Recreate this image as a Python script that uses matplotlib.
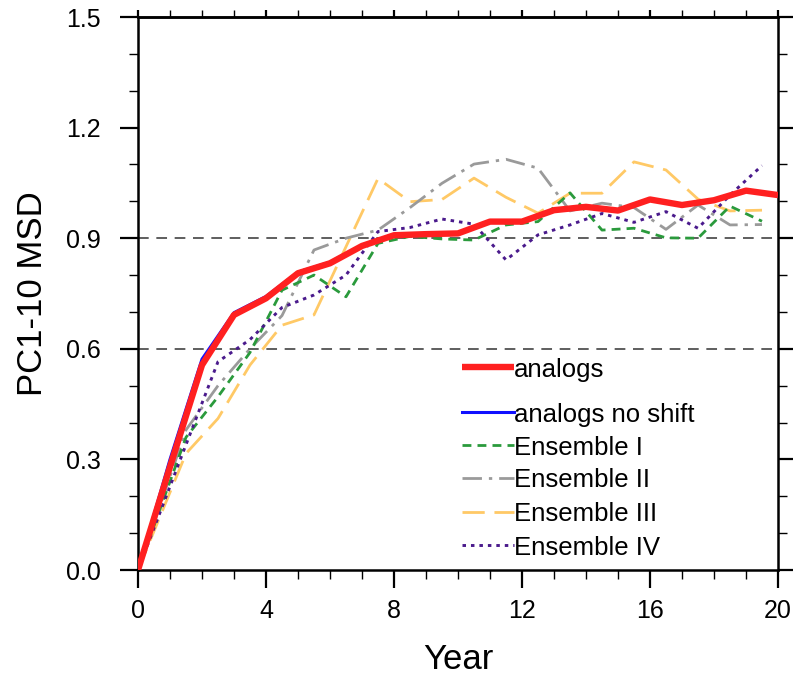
import matplotlib
matplotlib.use("Agg")
import matplotlib.pyplot as plt
from matplotlib.ticker import MultipleLocator, FormatStrFormatter
from matplotlib.lines import Line2D

plt.rcParams['font.family'] = ['Liberation Sans', 'DejaVu Sans']

# ---------------- data ----------------
years = [0, 1, 2, 3, 4, 5, 6, 7, 8, 9, 10, 11, 12, 13, 14, 15, 16, 17, 18, 19, 20]
analogs = [0, 0.28, 0.556, 0.692, 0.737, 0.805, 0.832, 0.879, 0.908, 0.911, 0.913,
           0.945, 0.945, 0.976, 0.985, 0.975, 1.005, 0.99, 1.003, 1.029, 1.017]
analogs_no_shift = [0, 0.30, 0.572, 0.698, 0.742, 0.808, 0.835, 0.881, 0.909, 0.911, 0.913,
                    0.945, 0.945, 0.976, 0.985, 0.975, 1.005, 0.99, 1.003, 1.029, 1.017]

ens_years = [0, 1.5, 2.5, 3.5, 4.5, 5.5, 6.5, 7.5, 8.5, 9.5, 10.5,
             11.5, 12.5, 13.5, 14.5, 15.5, 16.5, 17.5, 18.5, 19.5]
ensemble_1 = [0, 0.36, 0.47, 0.59, 0.759, 0.80, 0.741, 0.886, 0.905, 0.898, 0.895,
              0.936, 0.945, 1.023, 0.922, 0.927, 0.901, 0.90, 0.987, 0.946]
ensemble_2 = [0, 0.38, 0.50, 0.60, 0.69, 0.868, 0.90, 0.922, 0.983, 1.049, 1.101,
              1.114, 1.09, 0.974, 0.995, 0.983, 0.924, 0.99, 0.936, 0.937]
ensemble_3 = [0, 0.316, 0.411, 0.556, 0.664, 0.692, 0.877, 1.062, 0.999, 1.005, 1.063,
              1.011, 0.968, 1.022, 1.022, 1.107, 1.085, 1.006, 0.974, 0.976]
ensemble_4 = [0, 0.34, 0.565, 0.625, 0.712, 0.746, 0.80, 0.918, 0.929, 0.952, 0.938,
              0.841, 0.909, 0.936, 0.967, 0.943, 0.972, 0.927, 1.017, 1.097]

ref_levels = [0.6, 0.9]
xticks = [0, 4, 8, 12, 16, 20]
yticks = [0.0, 0.3, 0.6, 0.9, 1.2, 1.5]
labels = ["analogs", "analogs no shift", "Ensemble I", "Ensemble II",
          "Ensemble III", "Ensemble IV"]

# ---------------- styles ----------------
c_red = "#ff2020"
c_blue = "#1010ff"
c_green = "#2a9a3c"
c_grey = "#9a9a9a"
c_yellow = "#ffc966"
c_purple = "#4a1a8c"

st_green = dict(color=c_green, lw=2.0, dashes=(3.2, 2.2))
st_grey = dict(color=c_grey, lw=2.0, dashes=(7, 2.5, 1.2, 2.5))
st_yellow = dict(color=c_yellow, lw=2.0, dashes=(8, 3.5))
st_purple = dict(color=c_purple, lw=2.1, dashes=(1.2, 1.7))
st_blue = dict(color=c_blue, lw=2.2)
st_red = dict(color=c_red, lw=4.6, solid_capstyle='butt')

fig = plt.figure(figsize=(7.93, 6.77), dpi=100)
ax = fig.add_axes([138 / 793, 1 - 570 / 677, 640 / 793, 553 / 677])

for lv in ref_levels:
    ax.axhline(lv, color="#333333", lw=1.1, dashes=(7, 5), zorder=1)

ax.plot(ens_years, ensemble_3, **st_yellow, zorder=2)
ax.plot(ens_years, ensemble_2, **st_grey, zorder=2)
ax.plot(ens_years, ensemble_1, **st_green, zorder=3)
ax.plot(ens_years, ensemble_4, **st_purple, zorder=3)
ax.plot(years, analogs_no_shift, **st_blue, zorder=4)
ax.plot(years, analogs, **st_red, zorder=5)

ax.set_xlim(0, 20)
ax.set_ylim(0, 1.5)
ax.set_xticks(xticks)
ax.set_yticks(yticks)
ax.xaxis.set_minor_locator(MultipleLocator(1))
ax.yaxis.set_minor_locator(MultipleLocator(0.1))
ax.yaxis.set_major_formatter(FormatStrFormatter('%.1f'))
ax.tick_params(which='major', direction='out', length=13, width=1.6,
               labelsize=18, top=False, right=True)
ax.tick_params(which='minor', direction='out', length=6.5, width=1.0,
               top=False, right=True)
ax.tick_params(axis='x', which='major', pad=8)
ax.tick_params(axis='y', which='major', pad=14)
for sp in ax.spines.values():
    sp.set_linewidth(1.8)

# short ticks along the top edge
top = ax.secondary_xaxis('top')
top.set_xticks(xticks)
top.xaxis.set_minor_locator(MultipleLocator(1))
top.tick_params(which='major', direction='out', length=5, width=1.6, labeltop=False)
top.tick_params(which='minor', direction='out', length=5, width=1.0)
top.spines['top'].set_linewidth(1.8)

ax.set_xlabel("Year", fontsize=25, labelpad=14)
ax.set_ylabel("PC1-10 MSD", fontsize=25, labelpad=12)

# ---------------- legend (manual, no frame) ----------------
leg_styles = [st_red, st_blue, st_green, st_grey, st_yellow, st_purple]
leg_y = [0.367, 0.2857, 0.226, 0.1664, 0.1049, 0.0452]
for st, lab, yy in zip(leg_styles, labels, leg_y):
    ax.add_line(Line2D([0.506, 0.588], [yy, yy], transform=ax.transAxes, **st))
    ax.text(0.588, yy, lab, transform=ax.transAxes, fontsize=18.5,
            va='center_baseline', ha='left')

fig.savefig("out.png", dpi=100)
